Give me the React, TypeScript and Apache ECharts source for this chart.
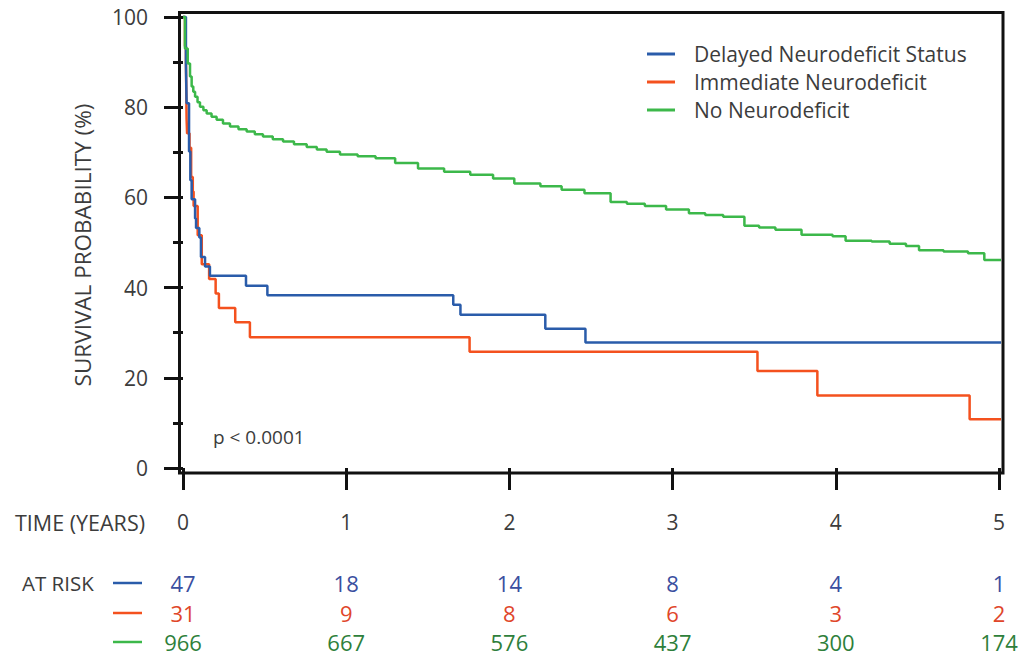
import React, { useEffect, useRef } from "react";
import * as echarts from "echarts";

const seriesNames = ["Delayed Neurodeficit Status", "Immediate Neurodeficit", "No Neurodeficit"];

const delayedTimes = [0, 0.018, 0.022, 0.037, 0.045, 0.053, 0.074, 0.08, 0.1, 0.11, 0.135, 0.165, 0.386, 0.517, 1.656, 1.7, 2.22, 2.466, 5.024];
const delayedSurv = [100, 89.4, 80.9, 70.2, 63.8, 59.6, 55.3, 53.2, 51.1, 46.8, 44.7, 42.6, 40.4, 38.3, 36.2, 34.0, 30.9, 27.8, 27.8];

const immediateTimes = [0, 0.012, 0.018, 0.022, 0.025, 0.04, 0.05, 0.06, 0.065, 0.09, 0.115, 0.16, 0.2, 0.22, 0.32, 0.41, 1.756, 3.52, 3.887, 4.82, 5.024];
const immediateSurv = [100, 93.5, 90.3, 77.4, 74.2, 71.0, 64.5, 61.3, 58.1, 51.6, 45.2, 41.9, 38.7, 35.5, 32.3, 29.0, 25.8, 21.5, 16.1, 10.8, 10.8];

const noneTimes = [0, 0.012, 0.029, 0.043, 0.053, 0.063, 0.074, 0.089, 0.104, 0.125, 0.145, 0.175, 0.206, 0.245, 0.288, 0.34, 0.39, 0.44, 0.49, 0.55, 0.613, 0.68, 0.758, 0.82, 0.88, 0.962, 1.07, 1.18, 1.3, 1.44, 1.6, 1.76, 1.9, 2.03, 2.19, 2.32, 2.46, 2.62, 2.72, 2.83, 2.96, 3.1, 3.2, 3.31, 3.44, 3.53, 3.63, 3.79, 3.98, 4.06, 4.22, 4.33, 4.43, 4.51, 4.66, 4.81, 4.91, 5.024];
const noneSurv = [100, 93.0, 89.7, 86.8, 84.6, 83.4, 82.3, 81.1, 80.1, 79.3, 78.6, 77.9, 77.2, 76.4, 75.7, 75.1, 74.6, 74.0, 73.5, 72.9, 72.4, 71.8, 71.2, 70.6, 70.1, 69.5, 69.1, 68.7, 67.6, 66.4, 65.7, 65.0, 64.2, 63.1, 62.5, 61.7, 60.9, 59.0, 58.6, 58.1, 57.3, 56.5, 56.1, 55.7, 53.7, 53.3, 52.8, 51.7, 51.4, 50.4, 50.2, 49.7, 49.2, 48.3, 48.0, 47.6, 46.1, 46.1];

const timeTicks = [0, 1, 2, 3, 4, 5];
const atRiskDelayed = [47, 18, 14, 8, 4, 1];
const atRiskImmediate = [31, 9, 8, 6, 3, 2];
const atRiskNone = [966, 667, 576, 437, 300, 174];

const lineColors = ["#2a5caa", "#f4511e", "#3cb84a"];
const riskColors = ["#3a4fa0", "#e0462a", "#2e7f3b"];

export default function App() {
  const ref = useRef<HTMLDivElement>(null);
  useEffect(() => {
    const chart = echarts.init(ref.current!, null, { renderer: "svg" });
    const font = "'Open Sans', sans-serif";
    const textColor = "#3c3c3c";
    const pairs = (t: number[], s: number[]) => t.map((v, i) => [v, s[i]]);
    const mk = (name: string, data: number[][], color: string, z: number) => ({
      name,
      type: "line",
      step: "end",
      data,
      color,
      showSymbol: false,
      symbol: "none",
      clip: false,
      z,
      lineStyle: { width: 2.5, color },
    });
    chart.setOption({
      animation: false,
      grid: { left: 183, right: 24, top: 17, bottom: 188 },
      xAxis: {
        type: "value",
        min: 0,
        max: 5,
        interval: 1,
        offset: 5,
        axisLine: { show: false },
        axisTick: { show: true, length: 22, lineStyle: { width: 3, color: "#111" } },
        axisLabel: { margin: 38, fontSize: 21, color: textColor, fontFamily: font },
        splitLine: { show: false },
      },
      yAxis: {
        type: "value",
        min: 0,
        max: 100,
        interval: 20,
        offset: 3,
        axisLine: { show: false },
        axisTick: { show: true, length: 19, lineStyle: { width: 3, color: "#111" } },
        minorTick: { show: true, splitNumber: 2, length: 10, lineStyle: { width: 3, color: "#111" } },
        minorSplitLine: { show: false },
        axisLabel: { margin: 32, fontSize: 21, color: textColor, fontFamily: font },
        splitLine: { show: false },
      },
      legend: {
        orient: "vertical",
        left: 647,
        top: 40,
        padding: 0,
        itemWidth: 28,
        itemHeight: 3,
        itemGap: 0,
        icon: "rect",
        textStyle: { fontSize: 21, fontFamily: font, color: textColor, lineHeight: 28, padding: [0, 0, 0, 14] },
        data: seriesNames,
      },
      series: [
        mk(seriesNames[0], pairs(delayedTimes, delayedSurv), lineColors[0], 3),
        mk(seriesNames[1], pairs(immediateTimes, immediateSurv), lineColors[1], 2),
        mk(seriesNames[2], pairs(noneTimes, noneSurv), lineColors[2], 4),
      ],
    });

    const px = (t: number) => chart.convertToPixel({ xAxisIndex: 0 }, t) as number;
    const rows = [atRiskDelayed, atRiskImmediate, atRiskNone];
    const rowY = [583, 613, 642];
    const elements: any[] = [
      {
        type: "rect",
        shape: { x: 179.5, y: 12.5, width: 823.5, height: 460.5 },
        style: { fill: "none", stroke: "#111", lineWidth: 3 },
        silent: true,
      },
      {
        type: "text",
        x: 82,
        y: 245,
        rotation: Math.PI / 2,
        style: { text: "SURVIVAL PROBABILITY (%)", fontSize: 22.5, fontFamily: font, fill: textColor, align: "center", verticalAlign: "middle" },
      },
      {
        type: "text",
        x: 213,
        y: 437,
        style: { text: "p < 0.0001", fontSize: 19, fontFamily: font, fill: textColor, align: "left", verticalAlign: "middle" },
      },
      {
        type: "text",
        x: 15,
        y: 522,
        style: { text: "TIME (YEARS)", fontSize: 21.5, fontFamily: font, fill: textColor, align: "left", verticalAlign: "middle" },
      },
      {
        type: "text",
        x: 22,
        y: rowY[0],
        style: { text: "AT RISK", fontSize: 20.5, fontFamily: font, fill: textColor, align: "left", verticalAlign: "middle" },
      },
    ];
    rows.forEach((row, r) => {
      elements.push({
        type: "line",
        shape: { x1: 113, y1: rowY[r], x2: 142, y2: rowY[r] },
        style: { stroke: lineColors[r], lineWidth: 2.5 },
      });
      row.forEach((v, i) => {
        elements.push({
          type: "text",
          x: px(timeTicks[i]),
          y: rowY[r],
          style: { text: String(v), fontSize: 22, lineHeight: 22, fontFamily: font, fill: riskColors[r], align: "center", verticalAlign: "middle" },
        });
      });
    });
    chart.setOption({ graphic: elements });
    return () => chart.dispose();
  }, []);
  return <div ref={ref} style={{ position: "fixed", left: 0, top: 0, width: 1023, height: 656, background: "#fff" }} />;
}
